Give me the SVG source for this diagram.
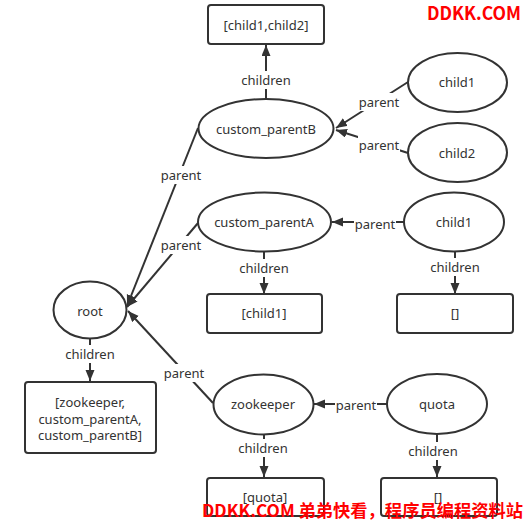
<svg xmlns="http://www.w3.org/2000/svg" width="526" height="524" viewBox="0 0 526 524">
<defs>
<marker id="arr" markerUnits="userSpaceOnUse" markerWidth="12" markerHeight="10" refX="11" refY="4.5" orient="auto">
<path d="M0,0 L11,4.5 L0,9 z" fill="#333"/>
</marker>
<style>
.n{fill:#fff;stroke:#333;stroke-width:2}
.t{font-family:"Noto Sans","Liberation Sans",sans-serif;font-size:13px;fill:#333;text-anchor:middle;dominant-baseline:central}
.e{stroke:#333;stroke-width:2;fill:none;marker-end:url(#arr)}
.bg{fill:#fff}
.wm{font-family:"Noto Sans CJK SC","Noto Sans",sans-serif;font-weight:bold;fill:#f00}
</style>
</defs>
<rect width="526" height="524" fill="#fff"/>
<g id="connectors">
<line class="e" x1="266" y1="99" x2="266" y2="45"/>
<line class="e" x1="408" y1="82" x2="336" y2="128"/>
<line class="e" x1="408" y1="153" x2="336" y2="130"/>
<line class="e" x1="404" y1="222" x2="332" y2="222"/>
<line class="e" x1="264" y1="252" x2="264" y2="294"/>
<line class="e" x1="455" y1="252" x2="455" y2="294"/>
<line class="e" x1="198" y1="128" x2="127" y2="306"/>
<line class="e" x1="198" y1="223" x2="127" y2="307"/>
<line class="e" x1="213" y1="403" x2="128" y2="311"/>
<line class="e" x1="90" y1="338" x2="90" y2="381"/>
<line class="e" x1="387" y1="404" x2="314" y2="404"/>
<line class="e" x1="264" y1="434" x2="264" y2="477"/>
<line class="e" x1="437" y1="434" x2="437" y2="477"/>
<rect class="bg" x="242" y="71" width="48" height="18"/>
<text class="t" x="266" y="80">children</text>
<rect class="bg" x="358" y="93" width="42" height="18"/>
<text class="t" x="379" y="102">parent</text>
<rect class="bg" x="358" y="136" width="42" height="18"/>
<text class="t" x="379" y="145">parent</text>
<rect class="bg" x="354" y="215" width="42" height="18"/>
<text class="t" x="375" y="224">parent</text>
<rect class="bg" x="240" y="259" width="48" height="18"/>
<text class="t" x="264" y="268">children</text>
<rect class="bg" x="431" y="258" width="48" height="18"/>
<text class="t" x="455" y="267">children</text>
<rect class="bg" x="160" y="166" width="42" height="18"/>
<text class="t" x="181" y="175">parent</text>
<rect class="bg" x="160" y="236" width="42" height="18"/>
<text class="t" x="181" y="245">parent</text>
<rect class="bg" x="163" y="364" width="42" height="18"/>
<text class="t" x="184" y="373">parent</text>
<rect class="bg" x="66" y="345" width="48" height="18"/>
<text class="t" x="90" y="354">children</text>
<rect class="bg" x="335" y="396" width="42" height="18"/>
<text class="t" x="356" y="405">parent</text>
<rect class="bg" x="239" y="439" width="48" height="18"/>
<text class="t" x="263" y="448">children</text>
<rect class="bg" x="409" y="442" width="48" height="18"/>
<text class="t" x="433" y="451">children</text>
</g>
<g id="box-child1-child2"><rect class="n" x="208" y="5" width="116" height="39" rx="3"/><text class="t" x="266" y="25">[child1,child2]</text></g>
<g id="custom_parentB"><ellipse class="n" cx="266" cy="128.5" rx="67.5" ry="29.5"/><text class="t" x="266" y="129">custom_parentB</text></g>
<g id="child1-b"><ellipse class="n" cx="457.5" cy="82.5" rx="49.5" ry="29.5"/><text class="t" x="457" y="82">child1</text></g>
<g id="child2-b"><ellipse class="n" cx="457.5" cy="152.5" rx="49.5" ry="29.5"/><text class="t" x="457" y="153">child2</text></g>
<g id="custom_parentA"><ellipse class="n" cx="264.5" cy="222" rx="66.5" ry="29.5"/><text class="t" x="264" y="222">custom_parentA</text></g>
<g id="child1-a"><ellipse class="n" cx="454" cy="222" rx="50" ry="29.5"/><text class="t" x="454" y="222">child1</text></g>
<g id="box-child1"><rect class="n" x="207" y="294" width="115" height="39" rx="3"/><text class="t" x="264" y="313">[child1]</text></g>
<g id="box-empty-a"><rect class="n" x="397" y="294" width="116" height="39" rx="3"/><text class="t" x="455" y="313">[]</text></g>
<g id="root"><ellipse class="n" cx="90" cy="310" rx="36.5" ry="28.5"/><text class="t" x="90" y="311">root</text></g>
<g id="box-root-children"><rect class="n" x="25" y="382" width="131" height="71" rx="3"/><text class="t" x="90" y="402"><tspan x="90" y="402">[zookeeper,</tspan><tspan x="90" y="418.5">custom_parentA,</tspan><tspan x="90" y="435">custom_parentB]</tspan></text></g>
<g id="zookeeper"><ellipse class="n" cx="263.5" cy="404.5" rx="50" ry="30"/><text class="t" x="263" y="404">zookeeper</text></g>
<g id="quota"><ellipse class="n" cx="437" cy="404" rx="50" ry="30"/><text class="t" x="437" y="404">quota</text></g>
<g id="box-quota"><rect class="n" x="207" y="478" width="117" height="38" rx="3"/><text class="t" x="265" y="497">[quota]</text></g>
<g id="box-empty-q"><rect class="n" x="381" y="478" width="116" height="38" rx="3"/><text class="t" x="438" y="497">[]</text></g>
<text class="wm" x="427" y="20" font-size="18" textLength="94" lengthAdjust="spacingAndGlyphs">DDKK.COM</text>
<text class="wm" x="202" y="517" font-size="17" textLength="321" lengthAdjust="spacingAndGlyphs">DDKK.COM 弟弟快看，程序员编程资料站</text>
</svg>
